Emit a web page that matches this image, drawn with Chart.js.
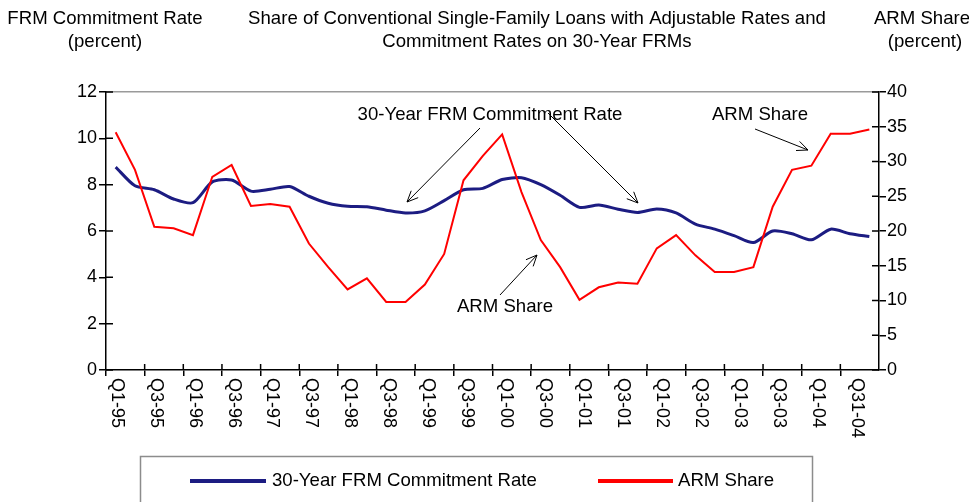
<!DOCTYPE html>
<html lang="en">
<head>
  <meta charset="UTF-8">
  <title>ARM Share and FRM Commitment Rate</title>
  <style>
    html, body {
      margin: 0;
      padding: 0;
      background: #fff;
    }
    #wrap {
      width: 969px;
      height: 502px;
    }
  </style>
  <script src="https://cdn.jsdelivr.net/npm/chart.js"></script>
</head>
<body>
  <div id="wrap"><canvas id="myChart" width="969" height="502"></canvas></div>
  <script>
    // quarters Q1-95 .. Q4-04
    const quarters = [
      'Q1-95','Q2-95','Q3-95','Q4-95','Q1-96','Q2-96','Q3-96','Q4-96',
      'Q1-97','Q2-97','Q3-97','Q4-97','Q1-98','Q2-98','Q3-98','Q4-98',
      'Q1-99','Q2-99','Q3-99','Q4-99','Q1-00','Q2-00','Q3-00','Q4-00',
      'Q1-01','Q2-01','Q3-01','Q4-01','Q1-02','Q2-02','Q3-02','Q4-02',
      'Q1-03','Q2-03','Q3-03','Q4-03','Q1-04','Q2-04','Q3-04','Q4-04'
    ];
    // labels printed under every second quarter (as in the original)
    const tickLabels = [
      'Q1-95','Q3-95','Q1-96','Q3-96','Q1-97','Q3-97','Q1-98','Q3-98','Q1-99','Q3-99',
      'Q1-00','Q3-00','Q1-01','Q3-01','Q1-02','Q3-02','Q1-03','Q3-03','Q1-04','Q31-04'
    ];
    const frmRate = [
      8.76, 7.95, 7.78, 7.38, 7.22, 8.12, 8.20, 7.72,
      7.80, 7.92, 7.50, 7.20, 7.07, 7.05, 6.90, 6.78,
      6.87, 7.31, 7.78, 7.84, 8.22, 8.30, 8.00, 7.54,
      7.02, 7.12, 6.94, 6.80, 6.95, 6.78, 6.30, 6.08,
      5.80, 5.50, 6.00, 5.88, 5.62, 6.08, 5.88, 5.76
    ];
    const armShare = [
      34.2, 28.8, 20.6, 20.4, 19.4, 27.8, 29.5, 23.6,
      23.9, 23.5, 18.2, 14.8, 11.6, 13.2,  9.8,  9.8,
      12.3, 16.7, 27.3, 30.8, 33.9, 25.6, 18.7, 14.8,
      10.1, 11.9, 12.6, 12.4, 17.5, 19.4, 16.5, 14.1,
      14.1, 14.8, 23.5, 28.8, 29.4, 34.0, 34.0, 34.6
    ];
    const leftTicks = [0, 2, 4, 6, 8, 10, 12];
    const rightTicks = [0, 5, 10, 15, 20, 25, 30, 35, 40];

    const FONT = '"Liberation Sans", Arial, sans-serif';
    const BLUE = '#1c1c82';
    const RED = '#ff0000';

    function arrow(ctx, x1, y1, x2, y2) {
      const a = Math.atan2(y2 - y1, x2 - x1);
      const h = 12, w = 0.42;
      ctx.beginPath();
      ctx.moveTo(x1, y1);
      ctx.lineTo(x2, y2);
      ctx.moveTo(x2 - h * Math.cos(a - w), y2 - h * Math.sin(a - w));
      ctx.lineTo(x2, y2);
      ctx.lineTo(x2 - h * Math.cos(a + w), y2 - h * Math.sin(a + w));
      ctx.stroke();
    }

    const decorations = {
      id: 'decorations',
      afterDraw(chart) {
        const ctx = chart.ctx;
        const xs = chart.scales.x, yl = chart.scales.y, yr = chart.scales.y1;
        const area = chart.chartArea;
        ctx.save();
        ctx.fillStyle = '#000';
        ctx.strokeStyle = '#000';

        // inner halves of the tick marks
        ctx.lineWidth = 1.5;
        ctx.beginPath();
        leftTicks.forEach(v => {
          const y = yl.getPixelForValue(v);
          ctx.moveTo(area.left, y); ctx.lineTo(area.left + 7, y);
        });
        rightTicks.forEach(v => {
          const y = yr.getPixelForValue(v);
          ctx.moveTo(area.right - 7, y); ctx.lineTo(area.right, y);
        });
        for (let i = 2; i < quarters.length; i += 2) {
          const x = (xs.getPixelForValue(i - 1) + xs.getPixelForValue(i)) / 2;
          ctx.moveTo(x, area.bottom - 6); ctx.lineTo(x, area.bottom);
        }
        ctx.stroke();

        // x labels, rotated clockwise
        ctx.font = '18px ' + FONT;
        ctx.textAlign = 'left';
        ctx.textBaseline = 'middle';
        tickLabels.forEach((t, j) => {
          const x = xs.getPixelForValue(j * 2) + 1 + j * 0.3;
          ctx.save();
          ctx.translate(x, area.bottom + 8);
          ctx.rotate(Math.PI / 2);
          ctx.fillText(t, 0, 0);
          ctx.restore();
        });

        // header texts
        ctx.font = '18.6px ' + FONT;
        ctx.textAlign = 'center';
        ctx.textBaseline = 'middle';
        ctx.fillText('FRM Commitment Rate', 105, 19);
        ctx.fillText('(percent)', 105, 42);
        ctx.fillText('Share of Conventional Single-Family Loans with Adjustable Rates and', 537, 19);
        ctx.fillText('Commitment Rates on 30-Year FRMs', 537, 42);
        ctx.fillText('ARM Share', 922, 19);
        ctx.fillText('(percent)', 925, 42);

        // annotations
        ctx.fillText('30-Year FRM Commitment Rate', 490, 115);
        ctx.fillText('ARM Share', 505, 307);
        ctx.fillText('ARM Share', 760, 115);
        ctx.lineWidth = 1;
        arrow(ctx, 480, 128, 407, 202);
        arrow(ctx, 548, 113, 638, 203);
        arrow(ctx, 500, 295, 537, 255);
        arrow(ctx, 755, 129, 808, 150);

        // legend
        ctx.strokeStyle = '#8c8c8c';
        ctx.lineWidth = 1.5;
        ctx.strokeRect(140.5, 456.5, 672, 60);
        ctx.lineWidth = 4;
        ctx.strokeStyle = BLUE;
        ctx.beginPath(); ctx.moveTo(190, 481); ctx.lineTo(266, 481); ctx.stroke();
        ctx.strokeStyle = RED;
        ctx.beginPath(); ctx.moveTo(598, 481); ctx.lineTo(673, 481); ctx.stroke();
        ctx.textAlign = 'left';
        ctx.fillText('30-Year FRM Commitment Rate', 272, 481);
        ctx.fillText('ARM Share', 678, 481);
        ctx.restore();
      }
    };

    const ctx = document.getElementById('myChart').getContext('2d');
    const myChart = new Chart(ctx, {
      type: 'line',
      data: {
        labels: quarters,
        datasets: [{
          label: '30-Year FRM Commitment Rate',
          data: frmRate,
          yAxisID: 'y',
          borderColor: BLUE,
          borderWidth: 3,
          pointRadius: 0,
          tension: 0.25,
          order: 2
        }, {
          label: 'ARM Share',
          data: armShare,
          yAxisID: 'y1',
          borderColor: RED,
          borderWidth: 2,
          pointRadius: 0,
          tension: 0,
          order: 1
        }]
      },
      options: {
        responsive: false,
        animation: false,
        layout: { padding: { top: 92, left: 0, right: 0, bottom: 0 } },
        plugins: {
          legend: { display: false },
          tooltip: { enabled: false }
        },
        scales: {
          x: {
            offset: true,
            afterFit: s => { s.height = 132; },
            border: { color: '#000', width: 1.5 },
            grid: {
              offset: true,
              drawOnChartArea: false,
              tickLength: 6,
              lineWidth: 1.5,
              color: c => (c.index !== undefined && c.index % 2 === 0) ? '#000' : 'rgba(0,0,0,0)'
            },
            ticks: { display: false, autoSkip: false }
          },
          y: {
            position: 'left',
            min: 0, max: 12,
            afterFit: s => { s.width = 106; },
            border: { color: '#000', width: 1.5 },
            grid: {
              tickLength: 7,
              lineWidth: 1.5,
              color: c => c.tick && c.tick.value === 12 ? '#9a9a9a' : 'rgba(0,0,0,0)',
              tickColor: '#000'
            },
            ticks: {
              stepSize: 2,
              padding: 2,
              color: '#000',
              font: { family: FONT, size: 18 }
            }
          },
          y1: {
            position: 'right',
            min: 0, max: 40,
            afterFit: s => { s.width = 90; },
            border: { color: '#000', width: 1.5 },
            grid: {
              drawOnChartArea: false,
              tickLength: 7,
              lineWidth: 1.5,
              color: '#000'
            },
            ticks: {
              stepSize: 5,
              padding: 1,
              color: '#000',
              font: { family: FONT, size: 18 }
            }
          }
        }
      },
      plugins: [decorations]
    });
  </script>
</body>
</html>
